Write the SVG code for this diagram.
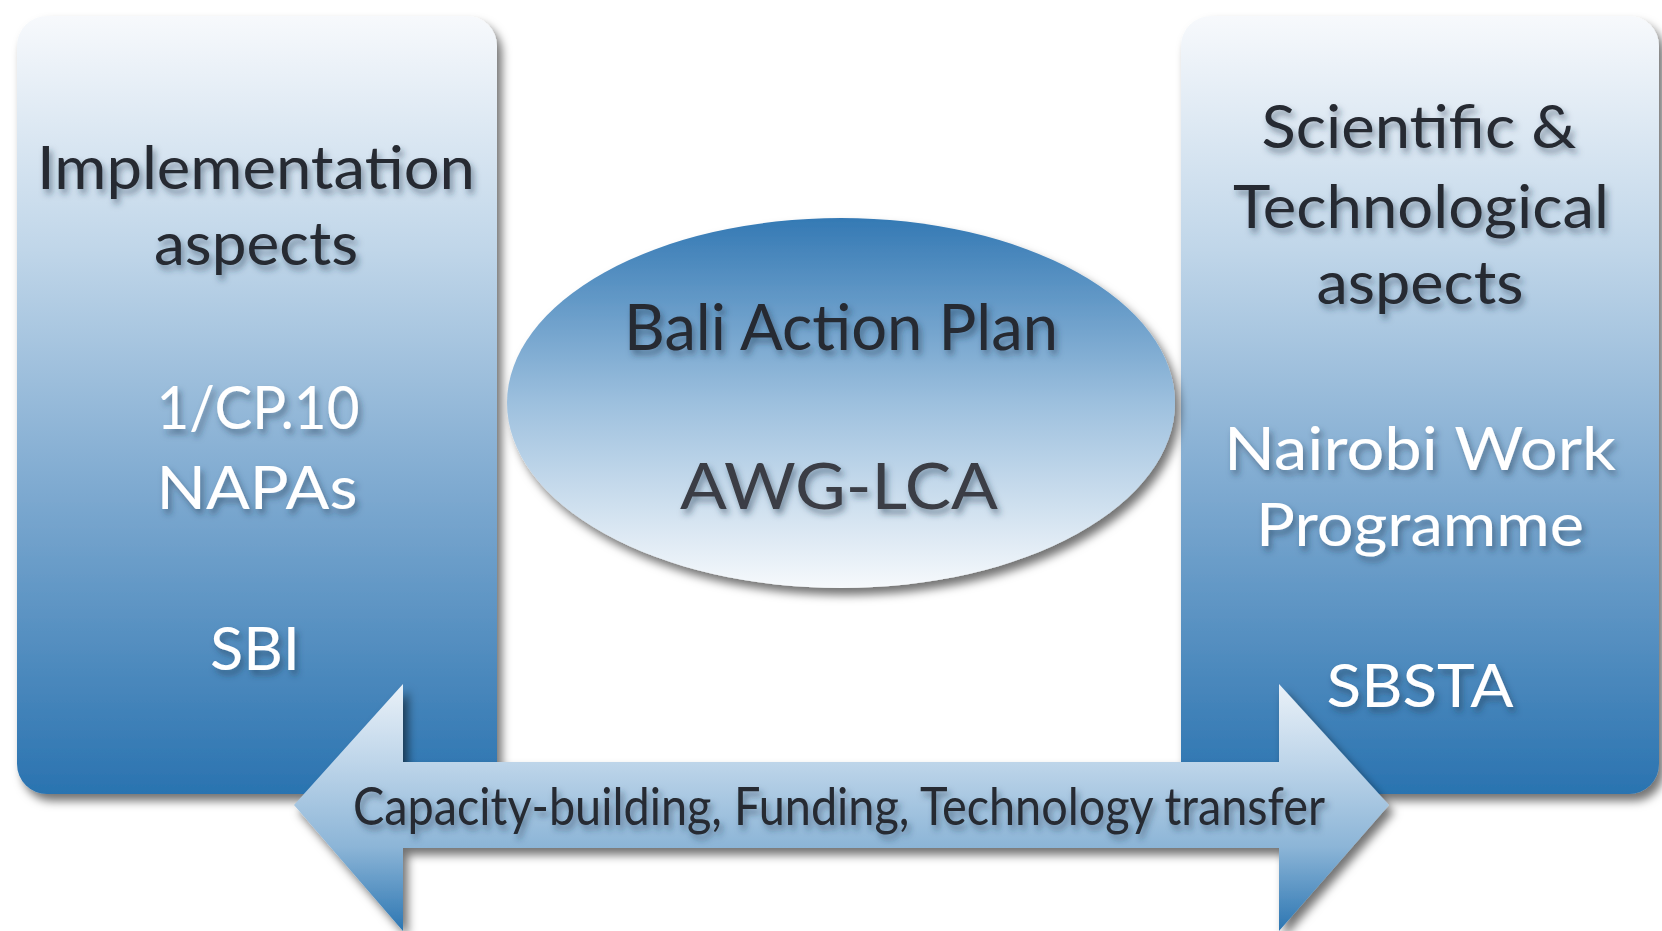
<svg xmlns="http://www.w3.org/2000/svg" width="1662" height="931" viewBox="0 0 1662 931">
<defs>
<linearGradient id="boxGrad" x1="0" y1="0" x2="0" y2="1">
<stop offset="0" stop-color="#f7f9fc"/>
<stop offset="0.3" stop-color="#c0d6e9"/>
<stop offset="0.6" stop-color="#80abd1"/>
<stop offset="1" stop-color="#2a73b0"/>
</linearGradient>
<linearGradient id="ellGrad" x1="0" y1="0" x2="0" y2="1">
<stop offset="0" stop-color="#3479b4"/>
<stop offset="0.5" stop-color="#9dc0de"/>
<stop offset="1" stop-color="#f6f9fc"/>
</linearGradient>
<linearGradient id="arrGrad" x1="0" y1="0" x2="0" y2="1">
<stop offset="0" stop-color="#eaf1f8"/>
<stop offset="0.33" stop-color="#bcd4e9"/>
<stop offset="0.66" stop-color="#8cb5d7"/>
<stop offset="1" stop-color="#2c76b2"/>
</linearGradient>
<filter id="shadow" x="-10%" y="-10%" width="125%" height="125%">
<feDropShadow dx="5" dy="7" stdDeviation="5" flood-color="#000" flood-opacity="0.55"/>
</filter>
<filter id="tshadow" x="-10%" y="-30%" width="130%" height="180%">
<feDropShadow dx="3" dy="5" stdDeviation="3" flood-color="#1b3550" flood-opacity="0.5"/>
</filter>
</defs>
<style>
text { font-family: Lato, "Open Sans", "Liberation Sans", sans-serif; text-anchor: middle; filter: url(#tshadow); }
.dark { fill: #262a31; }
.light { fill: #ffffff; }
.big { font-size: 60px; }
.ell { font-size: 64px; }
.lbl { font-size: 52px; }
</style>
<rect width="1662" height="931" fill="#ffffff"/>
<g id="left-box">
<rect x="17" y="16" width="480" height="778" rx="30" fill="url(#boxGrad)" filter="url(#shadow)"/>
<text class="dark big" x="256" y="189" textLength="438" lengthAdjust="spacingAndGlyphs">Implementation</text>
<text class="dark big" x="256" y="265" textLength="204" lengthAdjust="spacingAndGlyphs">aspects</text>
<text class="light big" x="258" y="429" textLength="203" lengthAdjust="spacingAndGlyphs">1/CP.10</text>
<text class="light big" x="257" y="509" textLength="201" lengthAdjust="spacingAndGlyphs">NAPAs</text>
<text class="light big" x="255" y="670" textLength="90" lengthAdjust="spacingAndGlyphs">SBI</text>
</g>
<g id="right-box">
<rect x="1181" y="16" width="478" height="778" rx="30" fill="url(#boxGrad)" filter="url(#shadow)"/>
<text class="dark big" x="1419" y="148" textLength="315" lengthAdjust="spacingAndGlyphs">Scientific &amp;</text>
<text class="dark big" x="1421" y="228" textLength="376" lengthAdjust="spacingAndGlyphs">Technological</text>
<text class="dark big" x="1420" y="304" textLength="207" lengthAdjust="spacingAndGlyphs">aspects</text>
<text class="light big" x="1420" y="470" textLength="392" lengthAdjust="spacingAndGlyphs">Nairobi Work</text>
<text class="light big" x="1420" y="546" textLength="328" lengthAdjust="spacingAndGlyphs">Programme</text>
<text class="light big" x="1420" y="707" textLength="187" lengthAdjust="spacingAndGlyphs">SBSTA</text>
</g>
<g id="bali-ellipse">
<ellipse cx="841" cy="403" rx="334" ry="185" fill="url(#ellGrad)" filter="url(#shadow)"/>
<text class="dark ell" x="841" y="350" textLength="434" lengthAdjust="spacingAndGlyphs">Bali Action Plan</text>
<text class="dark ell" x="839" y="509" textLength="318" lengthAdjust="spacingAndGlyphs" style="fill:#3a3e45">AWG-LCA</text>
</g>
<g id="connectors">
<path d="M294,805 L403,684 L403,762 L1279,762 L1279,684 L1389,805 L1279,931 L1279,848 L403,848 L403,931 Z" fill="url(#arrGrad)" filter="url(#shadow)"/>
<text class="dark lbl" x="839" y="825" textLength="972" lengthAdjust="spacingAndGlyphs">Capacity-building, Funding, Technology transfer</text>
</g>
</svg>
